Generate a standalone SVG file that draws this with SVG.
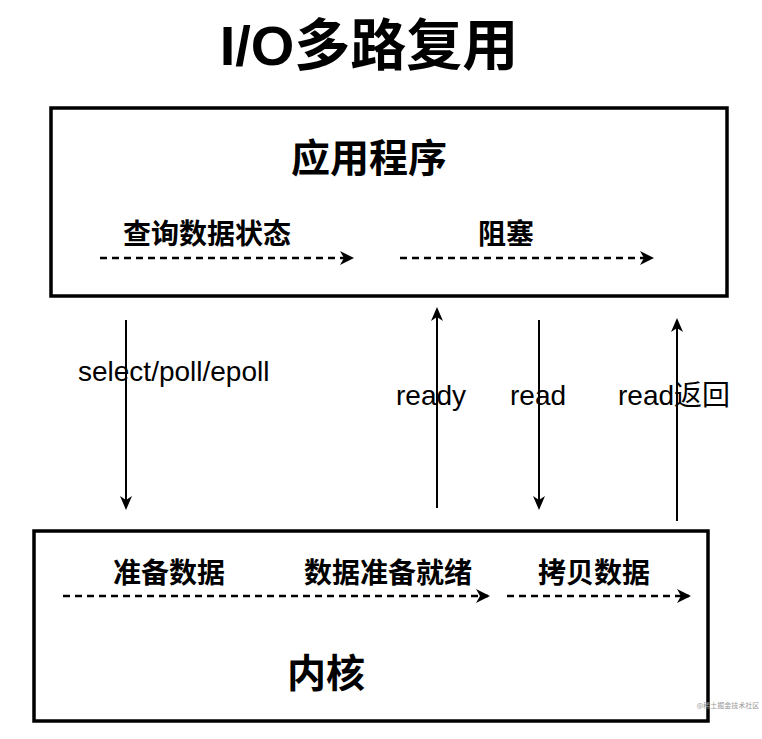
<svg xmlns="http://www.w3.org/2000/svg" width="762" height="739" viewBox="0 0 762 739">
<defs>
<marker id="ah" viewBox="0 0 14 12" refX="12" refY="6" markerWidth="14" markerHeight="12" markerUnits="userSpaceOnUse" orient="auto">
<path d="M0,0 L14,6 L0,12 L4,6 Z" fill="#000"/>
</marker>
<marker id="ahd" viewBox="0 0 14 14" refX="12" refY="7" markerWidth="14" markerHeight="14" markerUnits="userSpaceOnUse" orient="auto">
<path d="M0,0 L14,7 L0,14 L4,7 Z" fill="#000"/>
</marker>
</defs>
<style>
.box{fill:#fff;stroke:#000;stroke-width:3.5}
.cn{font-family:"Noto Sans CJK SC","Liberation Sans",sans-serif;font-weight:bold;fill:#000}
.lat{font-family:"Liberation Sans","Noto Sans CJK SC",sans-serif;fill:#000;font-size:28px}
.dash{stroke:#000;stroke-width:2.6;stroke-dasharray:7 5;fill:none}
.solid{stroke:#000;stroke-width:2;fill:none}
</style>
<rect width="762" height="739" fill="#fff"/>
<g id="title">
<text x="369" y="65" text-anchor="middle" class="cn" style="font-family:'Liberation Sans','Noto Sans CJK SC',sans-serif;font-size:56px;font-weight:bold">I/O<tspan style="font-family:'Noto Sans CJK SC',sans-serif">多路复用</tspan></text>
</g>
<g id="app">
<rect class="box" x="51" y="108" width="676" height="188"/>
<text x="369" y="172" text-anchor="middle" class="cn" font-size="39">应用程序</text>
<text x="207" y="244" text-anchor="middle" class="cn" font-size="28">查询数据状态</text>
<text x="506" y="244" text-anchor="middle" class="cn" font-size="28">阻塞</text>
</g>
<g id="kernel">
<rect class="box" x="34" y="531" width="674" height="190"/>
<text x="169" y="583" text-anchor="middle" class="cn" font-size="28">准备数据</text>
<text x="388" y="583" text-anchor="middle" class="cn" font-size="28">数据准备就绪</text>
<text x="594" y="583" text-anchor="middle" class="cn" font-size="28">拷贝数据</text>
<text x="326" y="687" text-anchor="middle" class="cn" font-size="39">内核</text>
</g>
<g id="connectors">
<line class="dash" x1="100" y1="258" x2="352" y2="258" marker-end="url(#ahd)"/>
<line class="dash" x1="400" y1="258" x2="652" y2="258" marker-end="url(#ahd)"/>
<line class="dash" x1="63" y1="596" x2="488" y2="596" marker-end="url(#ahd)"/>
<line class="dash" x1="507" y1="596" x2="689" y2="596" marker-end="url(#ahd)"/>
<line class="solid" x1="126" y1="320" x2="126" y2="508" marker-end="url(#ah)"/>
<line class="solid" x1="437" y1="508" x2="437" y2="309" marker-end="url(#ah)"/>
<line class="solid" x1="539" y1="320" x2="539" y2="508" marker-end="url(#ah)"/>
<line class="solid" x1="677" y1="521" x2="677" y2="320" marker-end="url(#ah)"/>
</g>
<g id="labels">
<text x="78" y="381" class="lat">select/poll/epoll</text>
<text x="396" y="405" class="lat">ready</text>
<text x="510" y="405" class="lat">read</text>
<text x="618" y="405" class="lat">read<tspan style="font-family:'Noto Sans CJK SC',sans-serif">返回</tspan></text>
</g>
<text x="728" y="708" text-anchor="middle" font-family="Noto Sans CJK SC,sans-serif" font-size="7" fill="#999">@稀土掘金技术社区</text>
</svg>
